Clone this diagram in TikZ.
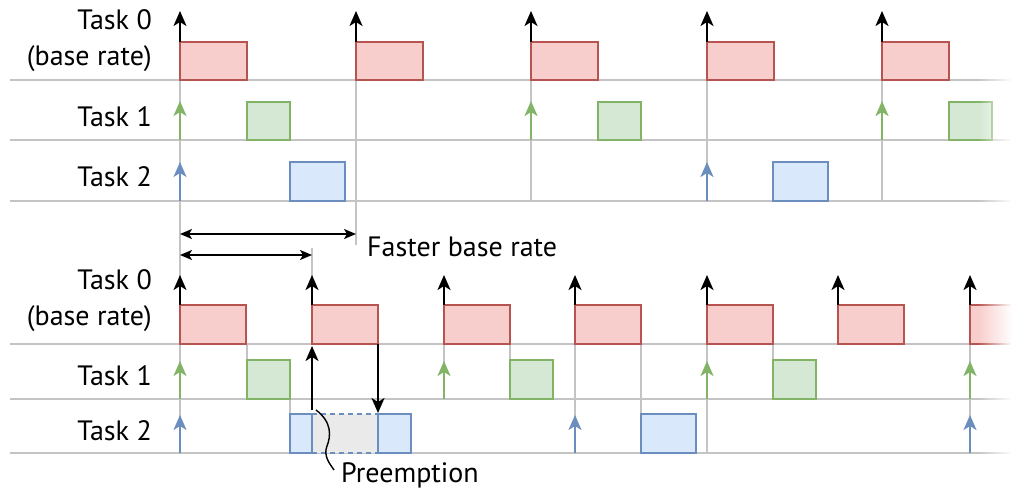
\documentclass[tikz,border=0pt]{standalone}
\usepackage{fontspec}
\setmainfont{PT Sans}
\usetikzlibrary{arrows.meta,fadings}
\definecolor{redline}{HTML}{B85450}
\definecolor{redfill}{HTML}{F8CECC}
\definecolor{greenline}{HTML}{82B366}
\definecolor{greenfill}{HTML}{D5E8D4}
\definecolor{blueline}{HTML}{6C8EBF}
\definecolor{bluefill}{HTML}{DAE8FC}
\definecolor{gridgray}{HTML}{C4C4C4}
\definecolor{preemptfill}{HTML}{E9EAE9}
\tikzfading[name=fade right,left color=transparent!100,right color=transparent!0]
\tikzset{
  taskbox/.style={line width=1.8pt},
  grid line/.style={gridgray,line width=1.8pt},
  guide/.style={gridgray,line width=1.2pt},
  release/.style={-{Stealth[length=15pt,width=13pt,inset=4pt]},line width=2.2pt},
  label text/.style={font=\fontsize{28}{32}\selectfont,inner sep=0pt},
}
\begin{document}
\begin{tikzpicture}[x=1pt,y=-1pt]
  \useasboundingbox (0,0) rectangle (1024,494);
  % task rows
  \foreach \y in {80,140,201,344,399,453}
    \draw[grid line] (10,\y)--(1012,\y);
  % guide lines
  \draw[guide] (180,80)--(180,453);
  \draw[guide] (356,80)--(356,245);
  \foreach \x in {531,707,882}
    \draw[guide] (\x,80)--(\x,201);
  \draw[guide] (312,248)--(312,305);
  \foreach \x/\from/\to in {247/344/360,290/399/414,444/344/399,510/344/360,575/344/453,641/344/414,707/344/453,773/344/360,970/344/453}
    \draw[guide] (\x,\from)--(\x,\to);
  % upper chart
  \foreach \x in {180,356,531,707,882} {
    \draw[taskbox,draw=redline,fill=redfill] (\x,42) rectangle ++(67,38);
    \draw[release] (\x,42)--(\x,11);
  }
  \foreach \x in {247,598,949}
    \draw[taskbox,draw=greenline,fill=greenfill] (\x,102) rectangle ++(43,38);
  \foreach \x in {180,531,882}
    \draw[release,greenline] (\x,140)--(\x,101);
  \foreach \x in {290,773}
    \draw[taskbox,draw=blueline,fill=bluefill] (\x,162) rectangle ++(55,39);
  \foreach \x in {180,707}
    \draw[release,blueline] (\x,201)--(\x,162);
  % lower chart
  \foreach \x in {180,312,444,575,707,838,970} {
    \draw[taskbox,draw=redline,fill=redfill] (\x,305) rectangle ++(66,39);
    \draw[release] (\x,305)--(\x,275);
  }
  \foreach \x in {247,510,773}
    \draw[taskbox,draw=greenline,fill=greenfill] (\x,360) rectangle ++(43,39);
  \foreach \x in {180,444,707,970}
    \draw[release,greenline] (\x,399)--(\x,361);
  \fill[preemptfill] (312,414) rectangle (378,453);
  \draw[blueline,dashed,line width=1.4pt,dash pattern=on 5pt off 4pt] (312,414)--(378,414) (312,453)--(378,453);
  \foreach \x/\w in {290/22,378/33,641/55}
    \draw[taskbox,draw=blueline,fill=bluefill] (\x,414) rectangle ++(\w,39);
  \foreach \x in {180,575,970}
    \draw[release,blueline] (\x,453)--(\x,415);
  % preemption
  \draw[release] (312,410)--(312,346);
  \draw[release] (378,344)--(378,413);
  \draw[line width=1.4pt] (316,410) .. controls (332,422) and (331,436) .. (327,446)
    .. controls (323,456) and (330,464) .. (334,470);
  % base periods
  \draw[{Stealth[length=12pt,width=10pt,inset=3pt]}-{Stealth[length=12pt,width=10pt,inset=3pt]},line width=1.7pt] (180,234)--(356,234);
  \draw[{Stealth[length=12pt,width=10pt,inset=3pt]}-{Stealth[length=12pt,width=10pt,inset=3pt]},line width=1.7pt] (180,255)--(312,255);
  % labels
  \node[label text,anchor=base east] (task0up) at (152,30) {Task 0};
  \node[label text,anchor=base east] (rate0up) at (152,66) {(base rate)};
  \node[label text,anchor=base east] (task1up) at (152,127) {Task 1};
  \node[label text,anchor=base east] (task2up) at (152,187) {Task 2};
  \node[label text,anchor=base east] (task0low) at (152,289) {Task 0};
  \node[label text,anchor=base east] (rate0low) at (152,325) {(base rate)};
  \node[label text,anchor=base east] (task1low) at (152,385) {Task 1};
  \node[label text,anchor=base east] (task2low) at (152,440) {Task 2};
  \node[label text,anchor=base west] (faster) at (367,256) {Faster base rate};
  \node[label text,anchor=base west] (preempt) at (341,482) {Preemption};
  % fade at the right end
  \fill[white,path fading=fade right] (978,0) rectangle (1012,494);
  \fill[white] (1011,0) rectangle (1024,494);
\end{tikzpicture}
\end{document}
